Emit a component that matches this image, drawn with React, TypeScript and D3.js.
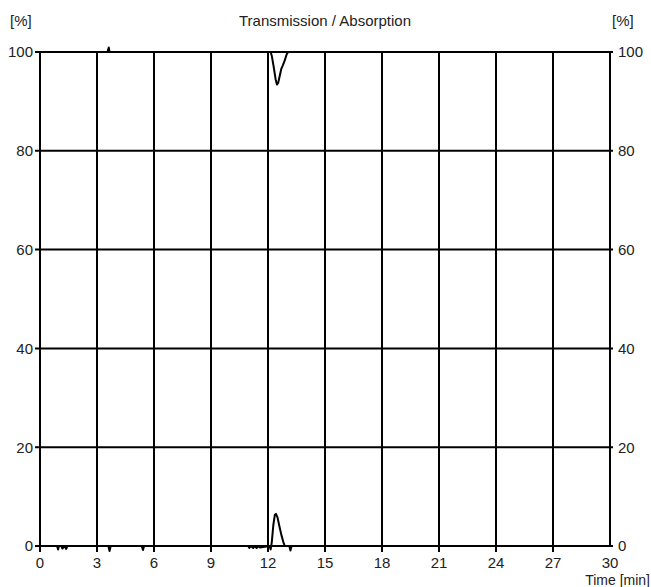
import React, { useEffect, useRef } from 'react';
import * as d3 from 'd3';

// time axis ticks [min] and percent ticks
const timeTicks = [0, 3, 6, 9, 12, 15, 18, 21, 24, 27, 30];
const percentTicks = [0, 20, 40, 60, 80, 100];

// transmission trace (top, near 100 %)
const transTime = [0, 3.55, 3.62, 3.66, 12.14, 12.2, 12.3, 12.4, 12.47, 12.54, 12.62, 12.7, 12.78, 12.88, 12.98, 13.05, 30];
const transValue = [100, 100, 100.9, 100, 100, 99.2, 97.0, 94.5, 93.4, 93.8, 95.2, 96.6, 97.3, 98.3, 99.5, 100, 100];

// absorption trace (bottom, near 0 %)
const absTime = [0, 0.9, 0.95, 1.0, 1.12, 1.18, 1.3, 1.38, 1.44, 3.6, 3.66, 3.72, 5.35, 5.42, 5.48, 10.95, 11.02, 11.1, 11.22, 11.3, 11.4, 11.5, 11.58, 12.08, 12.14, 12.2, 12.28, 12.36, 12.42, 12.5, 12.6, 12.7, 12.8, 12.88, 13.12, 13.18, 13.24, 30];
const absValue = [0, 0, -0.7, 0, 0, -0.5, 0, -0.6, 0, 0, -1.0, 0, 0, -0.8, 0, 0, -0.4, 0, -0.4, 0, -0.4, 0, -0.3, 0, -0.7, 0.8, 4.2, 6.3, 6.5, 5.8, 4.0, 2.3, 0.9, 0, 0, -0.9, 0, 0];

const W = 651;
const H = 587;
const FONT = '"Liberation Sans", Arial, sans-serif';

export default function App() {
  const svgRef = useRef<SVGSVGElement>(null);

  useEffect(() => {
    if (!svgRef.current) return;
    const svg = d3.select(svgRef.current);
    svg.selectAll('*').remove();

    const left = 40, right = 610, top = 52, bottom = 546;

    const x = d3.scaleLinear().domain([0, 30]).range([left, right]);
    const y = d3.scaleLinear().domain([0, 100]).range([bottom, top]);

    const g = svg.append('g')
      .style('font-family', FONT)
      .style('font-size', '15px');

    // grid
    g.selectAll('line.vgrid')
      .data(timeTicks)
      .enter()
      .append('line')
      .attr('x1', d => x(d))
      .attr('x2', d => x(d))
      .attr('y1', y(0))
      .attr('y2', y(100))
      .attr('stroke', '#000')
      .attr('stroke-width', 2);

    g.selectAll('line.hgrid')
      .data(percentTicks)
      .enter()
      .append('line')
      .attr('x1', x(0) - 5)
      .attr('x2', x(30) + 3)
      .attr('y1', d => y(d))
      .attr('y2', d => y(d))
      .attr('stroke', '#000')
      .attr('stroke-width', 2);

    // bottom ticks
    g.selectAll('line.xtick')
      .data(timeTicks.slice(0, -1))
      .enter()
      .append('line')
      .attr('x1', d => x(d))
      .attr('x2', d => x(d))
      .attr('y1', y(0))
      .attr('y2', y(0) + 6)
      .attr('stroke', '#000')
      .attr('stroke-width', 2);

    // tick labels
    g.selectAll('text.xlab')
      .data(timeTicks)
      .enter()
      .append('text')
      .attr('x', d => x(d))
      .attr('y', y(0) + 22)
      .attr('text-anchor', 'middle')
      .attr('fill', '#222')
      .text(d => d);

    g.selectAll('text.ylab')
      .data(percentTicks)
      .enter()
      .append('text')
      .attr('x', x(0) - 7)
      .attr('y', d => y(d))
      .attr('dy', '0.36em')
      .attr('text-anchor', 'end')
      .attr('fill', '#222')
      .text(d => d);

    g.selectAll('text.ylab2')
      .data(percentTicks)
      .enter()
      .append('text')
      .attr('x', x(30) + 8)
      .attr('y', d => y(d))
      .attr('dy', '0.36em')
      .attr('text-anchor', 'start')
      .attr('fill', '#222')
      .text(d => d);

    // titles
    g.append('text').attr('x', 10).attr('y', 26).attr('fill', '#222').text('[%]');
    g.append('text').attr('x', 612).attr('y', 26).attr('fill', '#222').text('[%]');
    g.append('text')
      .attr('x', (left + right) / 2)
      .attr('y', 26)
      .attr('text-anchor', 'middle')
      .attr('fill', '#222')
      .text('Transmission / Absorption');
    g.append('text')
      .attr('x', W - 1)
      .attr('y', 585)
      .attr('text-anchor', 'end')
      .attr('fill', '#222')
      .style('font-size', '14px')
      .text('Time [min]');

    // traces
    const line = d3.line<[number, number]>()
      .x(d => x(d[0]))
      .y(d => y(d[1]));

    const trans = transTime.map((t, i) => [t, transValue[i]] as [number, number]);
    const abs = absTime.map((t, i) => [t, absValue[i]] as [number, number]);

    g.append('path')
      .attr('d', line(trans))
      .attr('fill', 'none')
      .attr('stroke', '#000')
      .attr('stroke-width', 2)
      .attr('stroke-linejoin', 'round');

    g.append('path')
      .attr('d', line(abs))
      .attr('fill', 'none')
      .attr('stroke', '#000')
      .attr('stroke-width', 2)
      .attr('stroke-linejoin', 'round');
  }, []);

  return (
    <svg
      ref={svgRef}
      width={W}
      height={H}
      style={{ position: 'absolute', left: 0, top: 0, background: '#fff' }}
    />
  );
}
